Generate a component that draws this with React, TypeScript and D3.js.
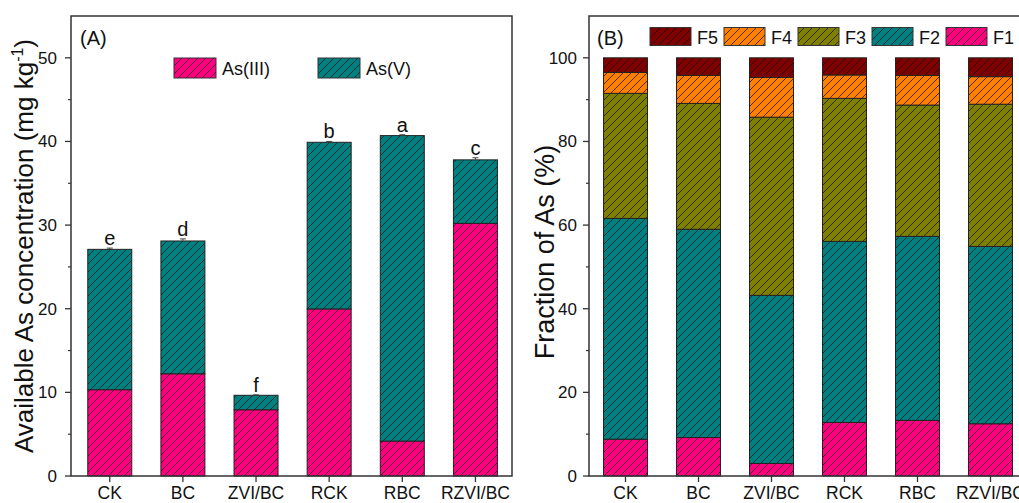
import React from "react";
import * as d3 from "d3";

const categories = ["CK", "BC", "ZVI/BC", "RCK", "RBC", "RZVI/BC"];

// Panel A: available As (mg/kg)
const as3 = [10.3, 12.2, 7.9, 19.95, 4.15, 30.2];
const totalA = [27.1, 28.1, 9.65, 39.9, 40.7, 37.8];
const errA = [0.15, 0.25, 0.05, 0.1, 0.1, 0.25];
const lettersA = ["e", "d", "f", "b", "a", "c"];
const yTicksA = [0, 10, 20, 30, 40, 50];
const yMinorA = [5, 15, 25, 35, 45];

// Panel B: fractions (%)
const F1 = [8.8, 9.2, 3.0, 12.8, 13.3, 12.5];
const F2 = [52.8, 49.8, 40.2, 43.3, 44.0, 42.4];
const F3 = [29.9, 30.1, 42.6, 34.2, 31.4, 34.0];
const F4 = [5.0, 6.7, 9.5, 5.6, 7.1, 6.6];
const F5 = [3.5, 4.2, 4.7, 4.1, 4.2, 4.5];
const fractionNames = ["F1", "F2", "F3", "F4", "F5"];
const legendOrderB = ["F5", "F4", "F3", "F2", "F1"];
const yTicksB = [0, 20, 40, 60, 80, 100];
const yMinorB = [10, 30, 50, 70, 90];

const colors: Record<string, string> = {
  "As(III)": "#FF0080",
  "As(V)": "#008080",
  F1: "#FF0080",
  F2: "#008080",
  F3: "#808000",
  F4: "#FF8000",
  F5: "#800000",
};

const FONT = "Arial, 'Liberation Sans', Helvetica, sans-serif";
const AX = "#333";

function patId(name: string) {
  return "hatch-" + name.replace(/[^A-Za-z0-9]/g, "");
}

export default function App() {
  const H = 503;
  const top = 16;
  const bottom = 476;

  // Panel A scales
  const xA = d3.scaleLinear().domain([-0.53, 5.5]).range([71, 512]);
  const yA = d3.scaleLinear().domain([0, 55]).range([bottom, top]);
  // Panel B scales
  const xB = d3.scaleLinear().domain([-0.5, 5.5]).range([589, 1027]);
  const yB = d3.scaleLinear().domain([0, 110]).range([bottom, top]);

  const bw = 44;

  const seriesB = [F1, F2, F3, F4, F5];
  const stackedB = categories.map((_, i) => {
    let acc = 0;
    return seriesB.map((s, k) => {
      const y0 = acc;
      acc += s[i];
      return { name: fractionNames[k], y0, y1: acc };
    });
  });

  const patternNames = ["As(III)", "As(V)", "F1", "F2", "F3", "F4", "F5"];

  return (
    <svg
      width={1019}
      height={H}
      style={{ position: "absolute", left: 0, top: 0, background: "#fff" }}
      fontFamily={FONT}
    >
      <defs>
        {patternNames.map((n) => (
          <pattern
            key={n}
            id={patId(n)}
            patternUnits="userSpaceOnUse"
            width={8}
            height={8}
          >
            <rect width={8} height={8} fill={colors[n]} />
            <path
              d="M-2,2 L2,-2 M0,8 L8,0 M6,10 L10,6"
              stroke="#111"
              strokeWidth={0.75}
            />
          </pattern>
        ))}
      </defs>

      {/* ---------- Panel A ---------- */}
      <g>
        {categories.map((c, i) => {
          const cx = xA(i);
          return (
            <g key={c}>
              <rect
                x={cx - bw / 2}
                y={yA(totalA[i])}
                width={bw}
                height={yA(as3[i]) - yA(totalA[i])}
                fill={`url(#${patId("As(V)")})`}
                stroke="#222"
                strokeWidth={1}
              />
              <rect
                x={cx - bw / 2}
                y={yA(as3[i])}
                width={bw}
                height={yA(0) - yA(as3[i])}
                fill={`url(#${patId("As(III)")})`}
                stroke="#222"
                strokeWidth={1}
              />
              {/* error bar */}
              <line
                x1={cx}
                x2={cx}
                y1={yA(totalA[i] + errA[i])}
                y2={yA(totalA[i])}
                stroke="#444"
              />
              <line
                x1={cx - 3}
                x2={cx + 3}
                y1={yA(totalA[i] + errA[i])}
                y2={yA(totalA[i] + errA[i])}
                stroke="#444"
              />
              <text
                x={cx}
                y={yA(totalA[i] + errA[i]) - 3}
                textAnchor="middle"
                fontSize={20}
                fill="#111"
              >
                {lettersA[i]}
              </text>
            </g>
          );
        })}

        {/* frame */}
        <rect
          x={71}
          y={top}
          width={512 - 71}
          height={bottom - top}
          fill="none"
          stroke={AX}
          strokeWidth={1.5}
        />
        {/* y ticks */}
        {yTicksA.map((t) => (
          <g key={t}>
            <line x1={65} x2={71} y1={yA(t)} y2={yA(t)} stroke={AX} strokeWidth={1.3} />
            <text
              x={57}
              y={yA(t)}
              dy="0.35em"
              textAnchor="end"
              fontSize={17}
              fill="#111"
            >
              {t}
            </text>
          </g>
        ))}
        {yMinorA.map((t) => (
          <line key={t} x1={68} x2={71} y1={yA(t)} y2={yA(t)} stroke={AX} strokeWidth={1.2} />
        ))}
        {/* x ticks */}
        {categories.map((c, i) => (
          <g key={c}>
            <line x1={xA(i)} x2={xA(i)} y1={bottom} y2={bottom + 6} stroke={AX} strokeWidth={1.3} />
            <text x={xA(i)} y={499} textAnchor="middle" fontSize={17.5} fill="#111">
              {c}
            </text>
          </g>
        ))}
        <text x={80} y={45} fontSize={20} fill="#111">
          (A)
        </text>
        <text
          transform={`translate(33,${(top + bottom) / 2}) rotate(-90)`}
          textAnchor="middle"
          fontSize={26}
          fill="#111"
        >
          Available As concentration (mg kg
          <tspan dy={-10} fontSize={16}>
            -1
          </tspan>
          <tspan dy={10}>)</tspan>
        </text>
        {/* legend A */}
        {["As(III)", "As(V)"].map((n, k) => {
          const lx = 174 + k * 144;
          return (
            <g key={n}>
              <rect
                x={lx}
                y={58}
                width={42}
                height={20}
                fill={`url(#${patId(n)})`}
                stroke="#333"
                strokeWidth={1}
              />
              <text x={lx + 48} y={75} fontSize={18} fill="#111">
                {n}
              </text>
            </g>
          );
        })}
      </g>

      {/* ---------- Panel B ---------- */}
      <g>
        {categories.map((c, i) => {
          const cx = xB(i);
          return (
            <g key={c}>
              {stackedB[i].map((s) => (
                <rect
                  key={s.name}
                  x={cx - bw / 2}
                  y={yB(s.y1)}
                  width={bw}
                  height={yB(s.y0) - yB(s.y1)}
                  fill={`url(#${patId(s.name)})`}
                  stroke="#222"
                  strokeWidth={1}
                />
              ))}
            </g>
          );
        })}
        <path
          d={`M1030,${top} H589 V${bottom} H1030`}
          fill="none"
          stroke={AX}
          strokeWidth={1.5}
        />
        {yTicksB.map((t) => (
          <g key={t}>
            <line x1={583} x2={589} y1={yB(t)} y2={yB(t)} stroke={AX} strokeWidth={1.3} />
            <text
              x={577}
              y={yB(t)}
              dy="0.35em"
              textAnchor="end"
              fontSize={17}
              fill="#111"
            >
              {t}
            </text>
          </g>
        ))}
        {yMinorB.map((t) => (
          <line key={t} x1={586} x2={589} y1={yB(t)} y2={yB(t)} stroke={AX} strokeWidth={1.2} />
        ))}
        {categories.map((c, i) => (
          <g key={c}>
            <line x1={xB(i)} x2={xB(i)} y1={bottom} y2={bottom + 6} stroke={AX} strokeWidth={1.3} />
            <text x={xB(i)} y={499} textAnchor="middle" fontSize={17.5} fill="#111">
              {c}
            </text>
          </g>
        ))}
        <text x={597} y={45} fontSize={20} fill="#111">
          (B)
        </text>
        <text
          transform={`translate(554,252) rotate(-90)`}
          textAnchor="middle"
          fontSize={27}
          fill="#111"
        >
          Fraction of As (%)
        </text>
        {legendOrderB.map((n, k) => {
          const lx = 650 + k * 74;
          return (
            <g key={n}>
              <rect
                x={lx}
                y={27.5}
                width={41}
                height={18}
                fill={`url(#${patId(n)})`}
                stroke="#333"
                strokeWidth={1}
              />
              <text x={lx + 47} y={43.5} fontSize={18} fill="#111">
                {n}
              </text>
            </g>
          );
        })}
      </g>
    </svg>
  );
}
